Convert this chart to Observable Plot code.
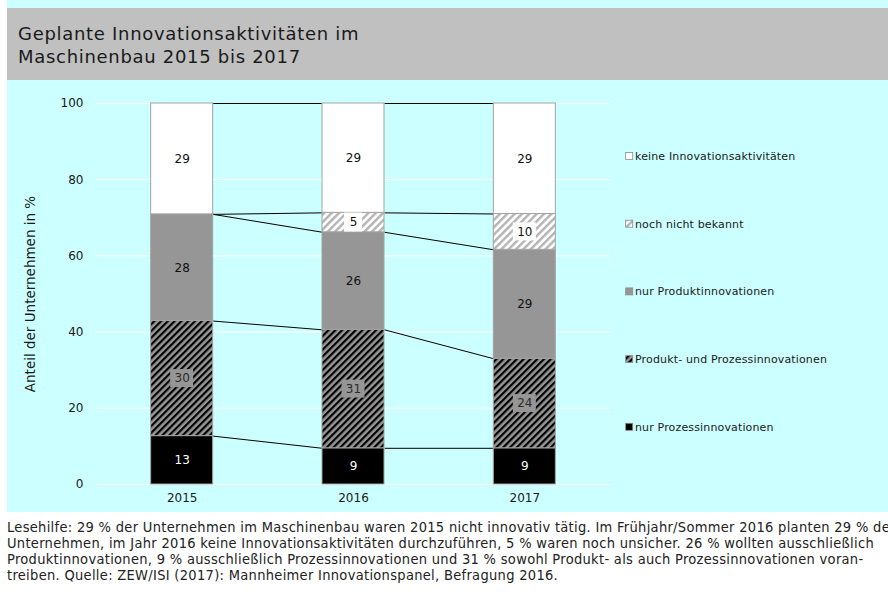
<!DOCTYPE html>
<html><head><meta charset="utf-8">
<script src="https://cdn.jsdelivr.net/npm/d3@7"></script>
<script src="https://cdn.jsdelivr.net/npm/@observablehq/plot@0.6"></script>
<style>
body{margin:0;background:#fff;width:888px;height:595px;overflow:hidden;font-family:"DejaVu Sans",Verdana,sans-serif;position:relative;}
#wrap{position:absolute;left:7px;top:0;width:881px;}
#strip{height:8px;background:#ccffff;}
#title{height:72px;background:#c0c0c0;box-sizing:border-box;padding:14px 0 0 11px;font-size:18px;letter-spacing:0.7px;line-height:23px;color:#1a1a1a;}
#chart{height:432px;background:#ccffff;}
#chart svg{display:block;}
#caption{position:absolute;left:7px;top:519px;width:881px;overflow:hidden;font-family:"Liberation Sans Narrow","DejaVu Sans Condensed","Open Sans","Liberation Sans",sans-serif;font-stretch:75%;font-size:14.5px;line-height:16px;color:#222;white-space:nowrap;}
#caption div{white-space:nowrap;}
</style></head>
<body>
<div id="wrap">
  <div id="strip"></div>
  <div id="title">Geplante Innovationsaktivitäten im<br>Maschinenbau 2015 bis 2017</div>
  <div id="chart"></div>
</div>
<div id="caption"></div>
<script>
// ---- data ----
const years = [2015, 2016, 2017];
const seriesNames = [
  "nur Prozessinnovationen",
  "Produkt- und Prozessinnovationen",
  "nur Produktinnovationen",
  "noch nicht bekannt",
  "keine Innovationsaktivitäten"
];
const nurProzess        = [12.7,  9.5,  9.5];
const produktUndProzess = [30.2, 31.1, 23.5];
const nurProdukt        = [28.0, 25.6, 28.6];
const nochNichtBekannt  = [ 0.0,  5.1,  9.4];
const keineAktivitaeten = [29.1, 28.7, 29.0];

const labelsNurProzess        = ["13", "9", "9"];
const labelsProduktUndProzess = ["30", "31", "24"];
const labelsNurProdukt        = ["28", "26", "29"];
const labelsNochNichtBekannt  = ["", "5", "10"];
const labelsKeine             = ["29", "29", "29"];

const yTicks = [0, 20, 40, 60, 80, 100];
const yLabel = "Anteil der Unternehmen in %";
const captionLines = [
  "Lesehilfe: 29 % der Unternehmen im Maschinenbau waren 2015 nicht innovativ tätig. Im Frühjahr/Sommer 2016 planten 29 % der",
  "Unternehmen, im Jahr 2016 keine Innovationsaktivitäten durchzuführen, 5 % waren noch unsicher. 26 % wollten ausschließlich",
  "Produktinnovationen,  9 % ausschließlich Prozessinnovationen und 31 % sowohl Produkt- als auch Prozessinnovationen voran-",
  "treiben. Quelle: ZEW/ISI (2017): Mannheimer Innovationspanel, Befragung 2016."
];

// ---- build tables ----
const seriesValues = [nurProzess, produktUndProzess, nurProdukt, nochNichtBekannt, keineAktivitaeten];
const seriesLabels = [labelsNurProzess, labelsProduktUndProzess, labelsNurProdukt, labelsNochNichtBekannt, labelsKeine];
const fills = ["black", "url(#hatchDark)", "#969696", "url(#hatchLight)", "white"];
const boxFills = ["black", "#969696", "#969696", "white", "white"];

const rows = [];
years.forEach((year, i) => {
  let cum = 0;
  seriesNames.forEach((s, j) => {
    const v = seriesValues[j][i];
    rows.push({year, series: s, j, y1: cum, y2: cum + v, mid: cum + v / 2, value: v, label: seriesLabels[j][i]});
    cum += v;
  });
});
const links = [];
for (let i = 0; i < years.length - 1; i++) {
  for (let j = 0; j < seriesNames.length; j++) {
    const a = rows.find(r => r.year === years[i] && r.j === j);
    const b = rows.find(r => r.year === years[i + 1] && r.j === j);
    links.push({from: a.year, to: b.year, ya: a.y2, yb: b.y2});
  }
}

const HW = 0.181;
const segs = rows.filter(r => r.value > 0);
const boxRows = segs.filter(r => r.j === 1 || r.j === 3);
const FS = 12;

const plot = Plot.plot({
  width: 881, height: 432,
  marginLeft: 89, marginRight: 278, marginTop: 23, marginBottom: 28,
  style: {background: "transparent", fontFamily: "DejaVu Sans, Verdana, sans-serif", fontSize: "12px", color: "#1a1a1a", overflow: "visible"},
  x: {domain: [2014.5, 2017.5], ticks: 3, tickFormat: d => String(d), tickSize: 0, tickPadding: 9, label: null},
  y: {domain: [0, 100], ticks: 5, tickSize: 0, tickPadding: 13, label: null},
  color: {type: "ordinal", domain: seriesNames, range: fills},
  marks: [
    Plot.ruleY(yTicks, {stroke: "white", strokeWidth: 1}),
    Plot.link(links, {x1: d => d.from + HW, y1: "ya", x2: d => d.to - HW, y2: "yb", stroke: "black", strokeWidth: 1}),
    Plot.rect(segs, {x1: d => d.year - HW, x2: d => d.year + HW, y1: "y1", y2: "y2", fill: "series", stroke: "#a3a3a3", strokeWidth: 1}),
    Plot.rect(boxRows.filter(r => r.label.length > 1), {x1: "year", x2: "year", y1: "mid", y2: "mid",
      insetLeft: -11.5, insetRight: -11.5, insetTop: -9, insetBottom: -9, fill: "series"}),
    Plot.rect(boxRows.filter(r => r.label.length === 1), {x1: "year", x2: "year", y1: "mid", y2: "mid",
      insetLeft: -9, insetRight: -9, insetTop: -9.5, insetBottom: -9.5, fill: "series"}),
    Plot.text(segs.filter(r => r.j === 0), {x: "year", y: "mid", text: "label", fill: "white", fontSize: FS}),
    Plot.text(segs.filter(r => r.j === 2 || r.j === 4 || r.j === 3), {x: "year", y: "mid", text: "label", fill: "#111", fontSize: FS}),
    Plot.text(segs.filter(r => r.j === 1), {x: "year", y: "mid", text: "label", fill: "#2a2a2a", fontSize: FS}),
    Plot.text([yLabel], {frameAnchor: "left", textAnchor: "middle", dx: -66, rotate: -90, fontSize: 13.5, fill: "#1a1a1a"})
  ]
});

document.getElementById("chart").appendChild(plot);
const svg = d3.select(plot);
const defs = svg.insert("defs", ":first-child");
const pd = defs.append("pattern").attr("id", "hatchDark").attr("patternUnits", "userSpaceOnUse")
  .attr("width", 4.8).attr("height", 4.8).attr("patternTransform", "rotate(45)");
pd.append("rect").attr("width", 4.8).attr("height", 4.8).attr("fill", "#969696");
pd.append("rect").attr("width", 2.2).attr("height", 4.8).attr("fill", "black");
const pl = defs.append("pattern").attr("id", "hatchLight").attr("patternUnits", "userSpaceOnUse")
  .attr("width", 5.2).attr("height", 5.2).attr("patternTransform", "rotate(45)");
pl.append("rect").attr("width", 5.2).attr("height", 5.2).attr("fill", "white");
pl.append("rect").attr("width", 2.4).attr("height", 5.2).attr("fill", "#b4b4b4");

// label boxes: plain background colour of their hatch
const groups = plot.querySelectorAll("g[aria-label='rect']");
groups.forEach((g, gi) => {
  if (gi === 0) return;
  g.querySelectorAll("rect").forEach(r => {
    const f = r.getAttribute("fill");
    const j = fills.indexOf(f);
    if (j >= 0) r.setAttribute("fill", boxFills[j]);
  });
});

// legend
const legendTop = 76, legendStep = 67.7;
const lg = svg.append("g").attr("font-family", "DejaVu Sans, Verdana, sans-serif").attr("font-size", 11)
  .attr("text-anchor", "start");
seriesNames.slice().reverse().forEach((s, k) => {
  const j = seriesNames.length - 1 - k;
  const cy = legendTop + k * legendStep;
  lg.append("rect").attr("x", 618.7).attr("y", cy - 3.5).attr("width", 7).attr("height", 7)
    .attr("fill", fills[j]).attr("stroke", "#8a8a8a").attr("stroke-width", 0.8);
  lg.append("text").attr("x", 628).attr("y", cy).attr("dy", "0.35em").attr("text-anchor", "start")
    .attr("letter-spacing", "0.15px").attr("fill", "#1a1a1a").text(s);
});

// caption
const cap = document.getElementById("caption");
captionLines.forEach(t => { const d = document.createElement("div"); d.textContent = t; cap.appendChild(d); });
const cs = getComputedStyle(cap);
const ctx = document.createElement("canvas").getContext("2d");
ctx.font = `condensed ${cs.fontSize} ${cs.fontFamily}`;
const target = "Lesehilfe: 29 % der Unternehmen im Maschinenbau waren 2015 nicht innovativ tätig. Im Frühjahr/Sommer 2016 planten 29 % de";
const w = ctx.measureText(target).width;
const ls = (883 - w) / target.length;
cap.style.letterSpacing = ls + "px";
</script>
</body></html>
